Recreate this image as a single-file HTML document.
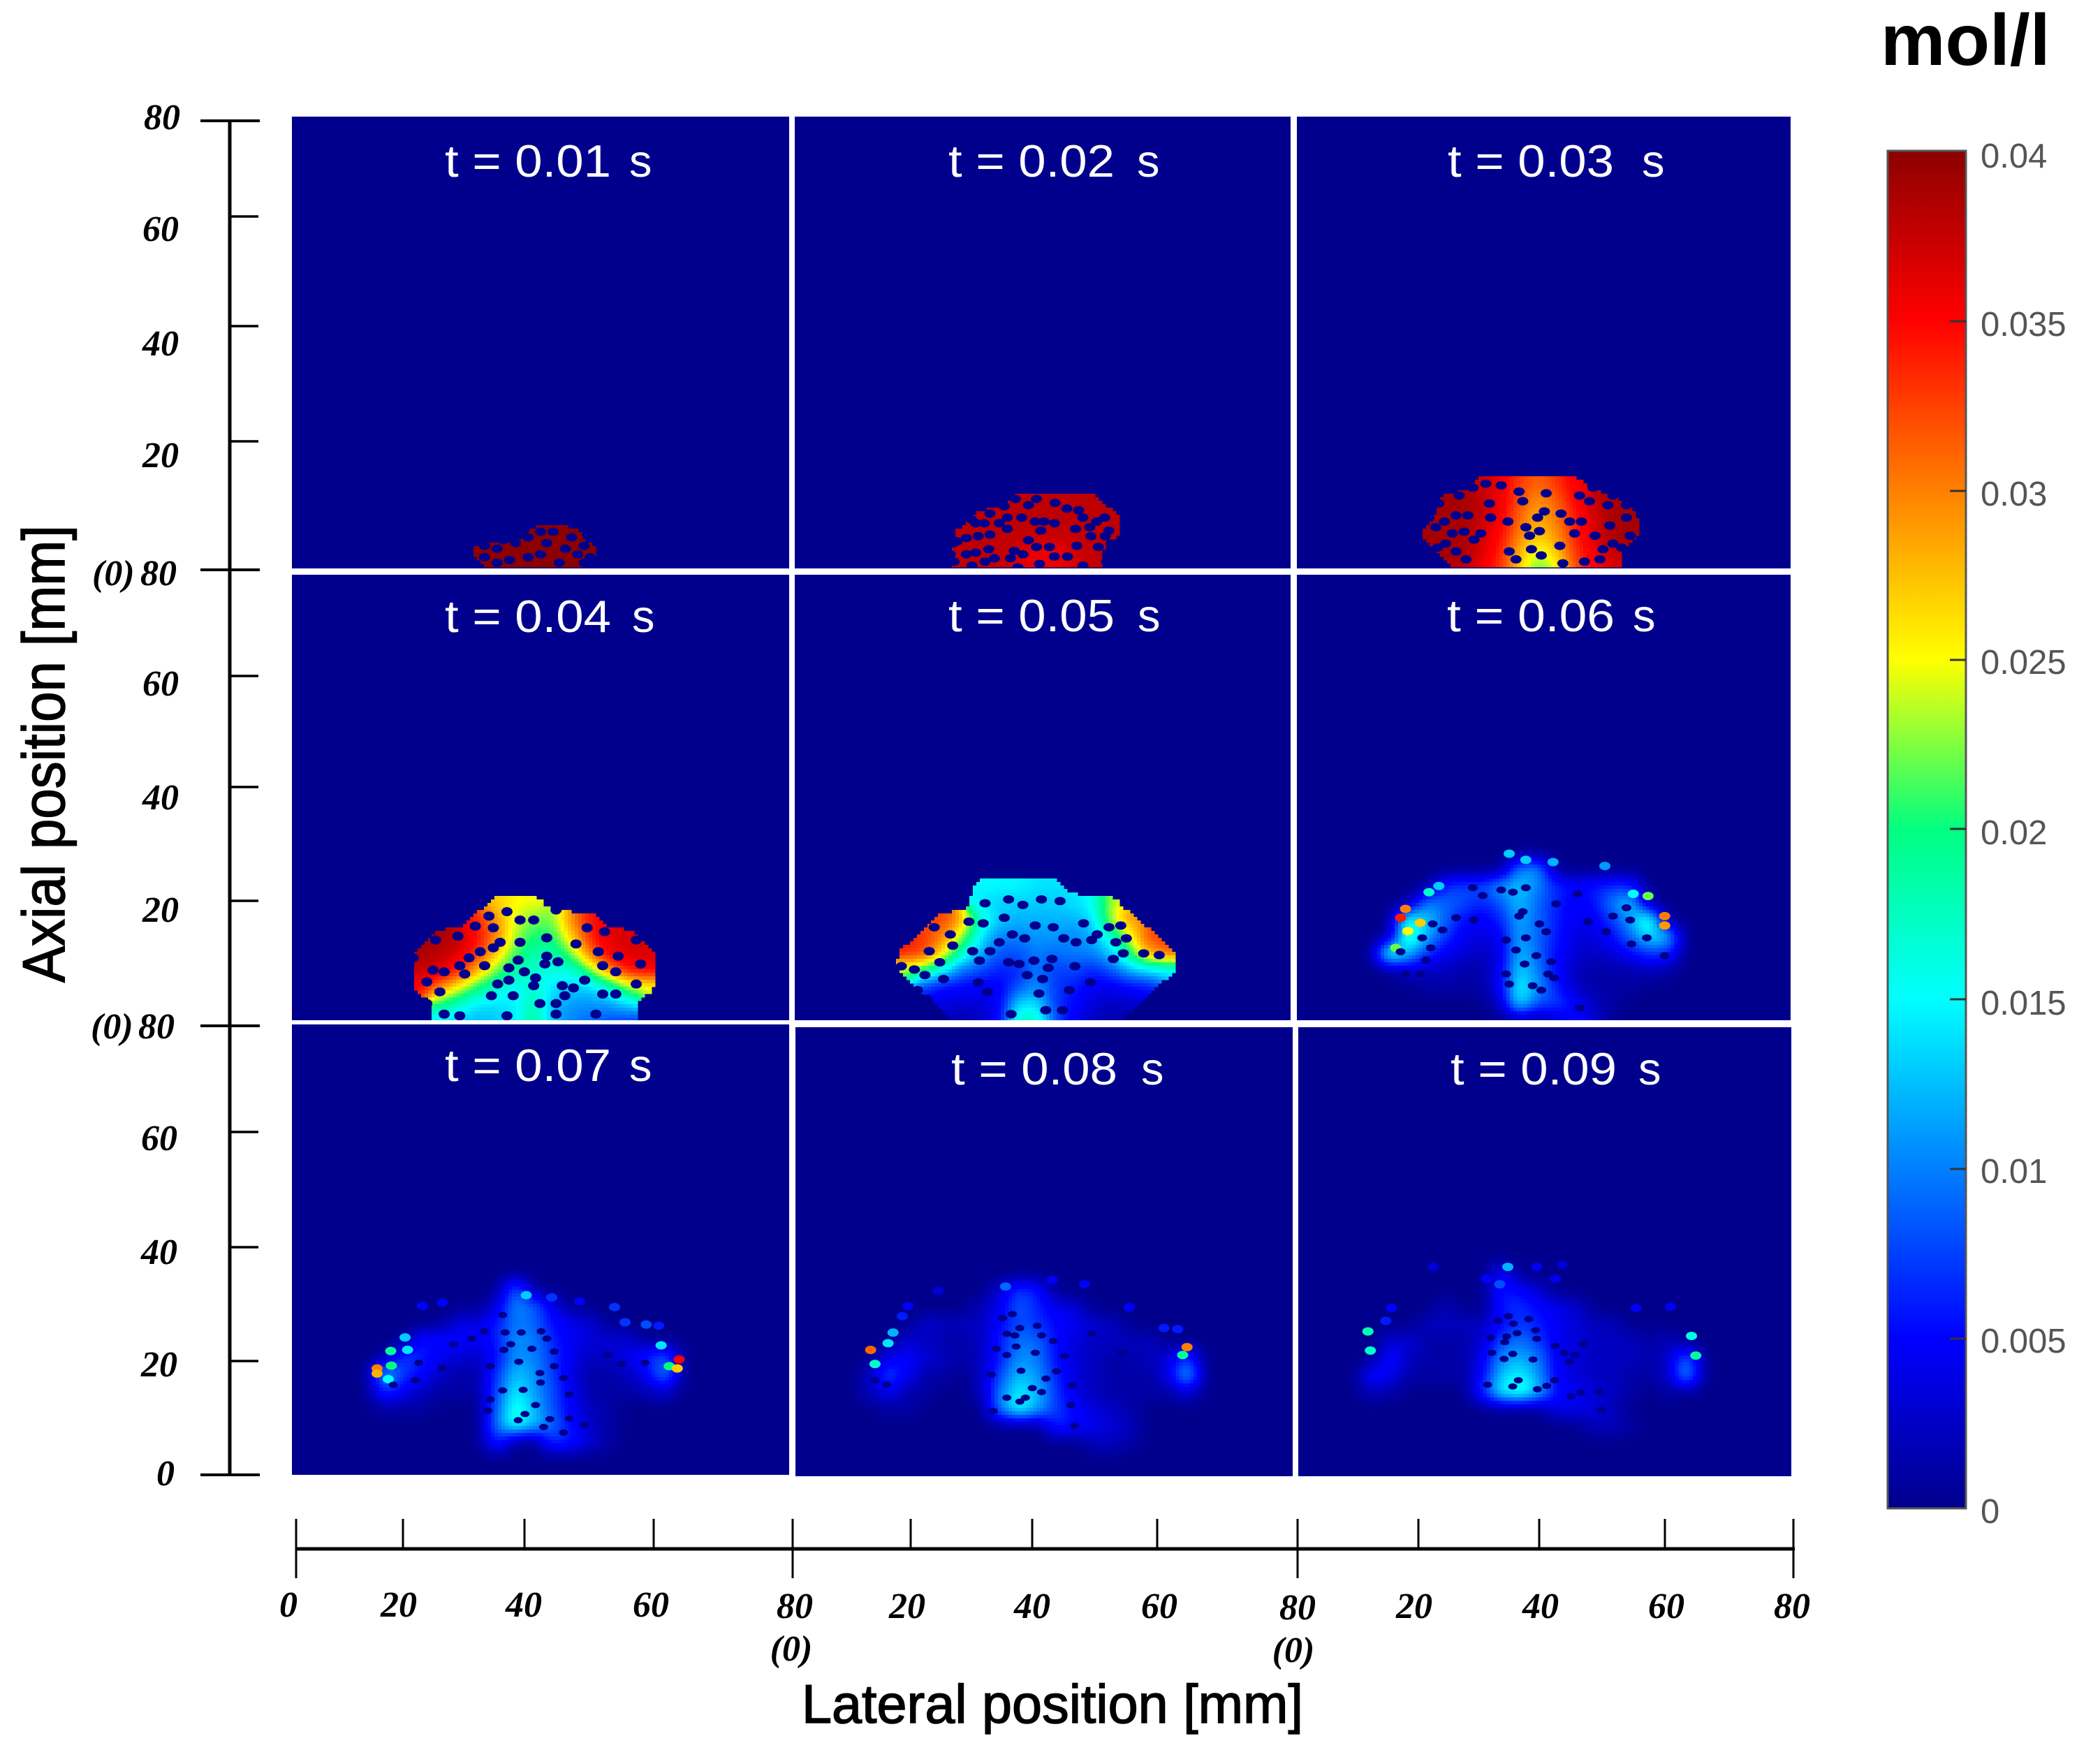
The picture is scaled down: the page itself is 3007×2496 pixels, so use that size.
<!DOCTYPE html>
<html lang="en">
<head>
<meta charset="utf-8">
<title>Concentration maps t = 0.01 to 0.09 s</title>
<style>
html,body{margin:0;padding:0;background:#fff;width:3007px;height:2496px;overflow:hidden}
svg{display:block}
.tick-label{font-family:"Liberation Serif",serif;font-weight:bold;font-style:italic;font-size:52px;fill:#000}
.panel-title{font-family:"Liberation Sans",sans-serif;font-size:65px;fill:#fff}
.axis-title{font-family:"Liberation Sans",sans-serif;fill:#000;stroke:#000;stroke-width:1.5}
.cb-label{font-family:"Liberation Sans",sans-serif;font-size:49px;fill:#555}
.panel-bg{fill:#00008c}
</style>
</head>
<body>
<svg id="figure" xmlns="http://www.w3.org/2000/svg" width="3007" height="2496" viewBox="0 0 3007 2496">
<rect x="0" y="0" width="3007" height="2496" fill="#fff"/>

<g>
<rect class="panel-bg" x="418" y="167" width="712" height="647"/>
<svg id="marks-t01" x="418" y="167" width="712" height="647"></svg>
<text class="panel-title" y="253"><tspan x="637" textLength="238" lengthAdjust="spacingAndGlyphs">t = 0.01</tspan><tspan x="901">s</tspan></text>
</g>
<g>
<rect class="panel-bg" x="1138" y="167" width="710" height="647"/>
<svg id="marks-t02" x="1138" y="167" width="710" height="647"></svg>
<text class="panel-title" y="253"><tspan x="1358" textLength="238" lengthAdjust="spacingAndGlyphs">t = 0.02</tspan><tspan x="1628">s</tspan></text>
</g>
<g>
<rect class="panel-bg" x="1857" y="167" width="707" height="647"/>
<svg id="marks-t03" x="1857" y="167" width="707" height="647"></svg>
<text class="panel-title" y="253"><tspan x="2073" textLength="238" lengthAdjust="spacingAndGlyphs">t = 0.03</tspan><tspan x="2351">s</tspan></text>
</g>
<g>
<rect class="panel-bg" x="418" y="823" width="712" height="638"/>
<svg id="marks-t04" x="418" y="823" width="712" height="638"></svg>
<text class="panel-title" y="905"><tspan x="637" textLength="238" lengthAdjust="spacingAndGlyphs">t = 0.04</tspan><tspan x="905">s</tspan></text>
</g>
<g>
<rect class="panel-bg" x="1138" y="823" width="710" height="638"/>
<svg id="marks-t05" x="1138" y="823" width="710" height="638"></svg>
<text class="panel-title" y="904"><tspan x="1358" textLength="238" lengthAdjust="spacingAndGlyphs">t = 0.05</tspan><tspan x="1629">s</tspan></text>
</g>
<g>
<rect class="panel-bg" x="1857" y="823" width="707" height="638"/>
<svg id="marks-t06" x="1857" y="823" width="707" height="638"></svg>
<text class="panel-title" y="904"><tspan x="2072" textLength="240" lengthAdjust="spacingAndGlyphs">t = 0.06</tspan><tspan x="2338">s</tspan></text>
</g>
<g>
<rect class="panel-bg" x="418" y="1467" width="712" height="645"/>
<svg id="marks-t07" x="418" y="1467" width="712" height="645"></svg>
<text class="panel-title" y="1548"><tspan x="637" textLength="238" lengthAdjust="spacingAndGlyphs">t = 0.07</tspan><tspan x="901">s</tspan></text>
</g>
<g>
<rect class="panel-bg" x="1139" y="1471" width="712" height="643"/>
<svg id="marks-t08" x="1139" y="1471" width="712" height="643"></svg>
<text class="panel-title" y="1553"><tspan x="1362" textLength="238" lengthAdjust="spacingAndGlyphs">t = 0.08</tspan><tspan x="1634">s</tspan></text>
</g>
<g>
<rect class="panel-bg" x="1859" y="1471" width="706" height="643"/>
<svg id="marks-t09" x="1859" y="1471" width="706" height="643"></svg>
<text class="panel-title" y="1553"><tspan x="2077" textLength="238" lengthAdjust="spacingAndGlyphs">t = 0.09</tspan><tspan x="2346">s</tspan></text>
</g>

<g stroke="#000">
<line x1="329" y1="173" x2="329" y2="2113" stroke-width="5"/>
<line x1="287" x2="372" y1="173" y2="173" stroke-width="4"/>
<line x1="331" x2="370" y1="310" y2="310" stroke-width="3.5"/>
<line x1="331" x2="370" y1="467" y2="467" stroke-width="3.5"/>
<line x1="331" x2="370" y1="632" y2="632" stroke-width="3.5"/>
<line x1="287" x2="372" y1="816" y2="816" stroke-width="4"/>
<line x1="331" x2="370" y1="968" y2="968" stroke-width="3.5"/>
<line x1="331" x2="370" y1="1127" y2="1127" stroke-width="3.5"/>
<line x1="331" x2="370" y1="1290" y2="1290" stroke-width="3.5"/>
<line x1="287" x2="372" y1="1469" y2="1469" stroke-width="4"/>
<line x1="331" x2="370" y1="1621" y2="1621" stroke-width="3.5"/>
<line x1="331" x2="370" y1="1786" y2="1786" stroke-width="3.5"/>
<line x1="331" x2="370" y1="1949" y2="1949" stroke-width="3.5"/>
<line x1="287" x2="372" y1="2112" y2="2112" stroke-width="4"/>
</g>
<g>
<text class="tick-label" x="206" y="185">80</text>
<text class="tick-label" x="204" y="345">60</text>
<text class="tick-label" x="204" y="509">40</text>
<text class="tick-label" x="204" y="669">20</text>
<text class="tick-label" x="132" y="838">(0)</text>
<text class="tick-label" x="201" y="838">80</text>
<text class="tick-label" x="204" y="996">60</text>
<text class="tick-label" x="204" y="1159">40</text>
<text class="tick-label" x="204" y="1320">20</text>
<text class="tick-label" x="130" y="1487">(0)</text>
<text class="tick-label" x="198" y="1487">80</text>
<text class="tick-label" x="202" y="1647">60</text>
<text class="tick-label" x="202" y="1810">40</text>
<text class="tick-label" x="202" y="1971">20</text>
<text class="tick-label" x="224" y="2127">0</text>
</g>
<text class="axis-title" transform="translate(92,1407) rotate(-90)" font-size="85" textLength="655" lengthAdjust="spacingAndGlyphs">Axial position [mm]</text>

<g stroke="#000">
<line x1="424" y1="2218" x2="2570" y2="2218" stroke-width="5"/>
<line x1="424" x2="424" y1="2175" y2="2260" stroke-width="3"/>
<line x1="577" x2="577" y1="2175" y2="2218" stroke-width="3"/>
<line x1="751" x2="751" y1="2175" y2="2218" stroke-width="3"/>
<line x1="936" x2="936" y1="2175" y2="2218" stroke-width="3"/>
<line x1="1135" x2="1135" y1="2175" y2="2260" stroke-width="3"/>
<line x1="1304" x2="1304" y1="2175" y2="2218" stroke-width="3"/>
<line x1="1478" x2="1478" y1="2175" y2="2218" stroke-width="3"/>
<line x1="1657" x2="1657" y1="2175" y2="2218" stroke-width="3"/>
<line x1="1858" x2="1858" y1="2175" y2="2260" stroke-width="3"/>
<line x1="2031" x2="2031" y1="2175" y2="2218" stroke-width="3"/>
<line x1="2204" x2="2204" y1="2175" y2="2218" stroke-width="3"/>
<line x1="2384" x2="2384" y1="2175" y2="2218" stroke-width="3"/>
<line x1="2568" x2="2568" y1="2175" y2="2260" stroke-width="3"/>
</g>
<g text-anchor="middle">
<text class="tick-label" x="413" y="2315">0</text>
<text class="tick-label" x="571" y="2315">20</text>
<text class="tick-label" x="750" y="2315">40</text>
<text class="tick-label" x="932" y="2315">60</text>
<text class="tick-label" x="1138" y="2317">80</text>
<text class="tick-label" x="1299" y="2317">20</text>
<text class="tick-label" x="1478" y="2317">40</text>
<text class="tick-label" x="1660" y="2317">60</text>
<text class="tick-label" x="1858" y="2319">80</text>
<text class="tick-label" x="2025" y="2317">20</text>
<text class="tick-label" x="2206" y="2317">40</text>
<text class="tick-label" x="2386" y="2317">60</text>
<text class="tick-label" x="2566" y="2317">80</text>
<text class="tick-label" x="1133" y="2378">(0)</text>
<text class="tick-label" x="1852" y="2380">(0)</text>
</g>
<text class="axis-title" x="1148" y="2467" font-size="78" textLength="718" lengthAdjust="spacingAndGlyphs">Lateral position [mm]</text>

<defs>
<linearGradient id="jet-gradient" x1="0" y1="0" x2="0" y2="1">
<stop offset="0" stop-color="#8c0000"/>
<stop offset="0.125" stop-color="#ff0000"/>
<stop offset="0.375" stop-color="#ffff00"/>
<stop offset="0.5" stop-color="#00ff80"/>
<stop offset="0.625" stop-color="#00ffff"/>
<stop offset="0.875" stop-color="#0000ff"/>
<stop offset="1" stop-color="#00008c"/>
</linearGradient>
</defs>
<g>
<rect x="2703" y="216" width="112" height="1944" fill="url(#jet-gradient)" stroke="#555" stroke-width="3"/>
<line x1="2792" x2="2815" y1="460" y2="460" stroke="#333" stroke-width="3"/>
<line x1="2792" x2="2815" y1="703" y2="703" stroke="#333" stroke-width="3"/>
<line x1="2792" x2="2815" y1="945" y2="945" stroke="#333" stroke-width="3"/>
<line x1="2792" x2="2815" y1="1187" y2="1187" stroke="#333" stroke-width="3"/>
<line x1="2792" x2="2815" y1="1431" y2="1431" stroke="#333" stroke-width="3"/>
<line x1="2792" x2="2815" y1="1674" y2="1674" stroke="#333" stroke-width="3"/>
<line x1="2792" x2="2815" y1="1917" y2="1917" stroke="#333" stroke-width="3"/>
<text class="cb-label" x="2836" y="240">0.04</text>
<text class="cb-label" x="2836" y="481">0.035</text>
<text class="cb-label" x="2836" y="724">0.03</text>
<text class="cb-label" x="2836" y="965">0.025</text>
<text class="cb-label" x="2836" y="1209">0.02</text>
<text class="cb-label" x="2836" y="1453">0.015</text>
<text class="cb-label" x="2836" y="1694">0.01</text>
<text class="cb-label" x="2836" y="1937">0.005</text>
<text class="cb-label" x="2836" y="2181">0</text>
</g>
<text x="2693" y="93" font-family="'Liberation Sans',sans-serif" font-weight="bold" font-size="104" fill="#000">mol/l</text>
</svg>

<script>
// Rows: [axial mm, first lateral mm, value at that lateral, next lateral (+3 mm), ...]
// Values are in 0.001 mol/l; 0 or missing means no vapour plume there.
const valuesT01 = [
  [6,39,40,40,40],
  [3,30,40,40,40,40,40,40,40],
  [0,33,40,40,40,40,40]
];
const valuesT02 = [
  [12,36,38,38,38,38,38],
  [9,30,38,38,38,38,38,38,38,38],
  [6,27,38,38,38,38,38,38,38,38,38],
  [3,27,38,38,38,37,36,36,37,38],
  [0,27,38,38,38,37,36,36,37,38]
];
const valuesT03 = [
  [15,30,38,36,33,31,33,36],
  [12,24,39,39,38,36,32,29,31,35,38,39],
  [9,24,39,39,38,36,31,28,30,34,37,39,39],
  [6,21,39,39,39,37,35,30,27,29,34,37,39,39],
  [3,24,39,39,37,34,28,24,27,33,36,38],
  [0,27,38,36,33,27,21,24,32,35,37]
];
const valuesT04 = [
  [21,33,27,25,25],
  [18,30,34,29,24,22,22,30,35],
  [15,24,39,38,35,30,23,20,20,27,34,37,37],
  [12,21,39,38,37,33,27,21,18,18,22,31,36,37,37],
  [9,21,38,37,34,28,22,18,17,16,16,22,30,35,36],
  [6,21,35,30,25,20,17,15,17,14,13,13,17,23,24],
  [3,24,20,17,14,14,14,19,12,11,11,11,14],
  [0,24,14,13,12,13,14,20,12,10,9,8,7]
];
const valuesT05 = [
  [24,30,15,15,15,14,14],
  [21,30,14,13,13,13,13,14,15,24],
  [18,24,33,29,17,13,12,12,12,12,13,24,30],
  [15,21,33,30,23,14,10,10,11,11,10,12,16,24,33],
  [12,18,35,33,26,17,12,8,8,10,9,10,10,13,20,29,33],
  [9,18,22,20,15,9,8,6,6,10,7,8,6,8,12,14,13],
  [6,21,6,5,5,4,4,8,11,7,6,4,4,5,5],
  [3,24,3,3,3,4,14,14,7,5,3,2,2],
  [0,27,1,2,4,18,18,8,4,2,1]
];
const valuesT06 = [
  [27,36,11,12],
  [24,24,7,8,8,12,13,10,7,5,6,7,7],
  [21,21,11,9,8,6,8,13,9,6,4,5,10,14],
  [18,18,18,13,9,5,4,6,12,9,6,4,4,7,11,20],
  [15,18,20,12,7,4,3,4,12,9,6,3,3,5,9,14,14],
  [12,15,20,12,7,4,3,2,3,13,9,5,3,2,3,5,7,7],
  [9,18,3,2,2,1,1,4,14,10,5,2,1,1,1,2,1],
  [6,21,1,1,1,1,4,16,11,6,2,1,1,1],
  [3,33,2,16,8,8,5,2,1],
  [0,42,2,5,3]
];
const valuesT07 = [
  [33,36,10],
  [30,33,3,11,9,4],
  [27,27,4,3,6,10,9,5,4,3],
  [24,21,6,5,5,4,6,11,10,6,4,3,3,3],
  [21,18,8,6,4,3,2,5,11,10,7,4,2,2,4,6,9],
  [18,15,14,7,5,2,1,1,7,13,11,7,3,1,1,2,4,12],
  [15,15,8,4,2,1,1,1,8,15,11,8,4,1,1,1,2,3],
  [12,15,1,1,1,0,0,0,9,17,12,8,4,2,1,0,0,0],
  [9,33,10,18,13,9,5,2,1],
  [6,33,8,0,0,8,6,3,1]
];
const valuesT08 = [
  [33,33,3,8,6],
  [30,30,2,4,9,6,4,3],
  [27,21,3,2,2,2,5,8,7,5,4,3,2],
  [24,18,3,2,1,1,2,6,10,9,5,3,2,2,2,2],
  [21,15,4,5,3,2,1,2,6,11,10,5,3,2,1,1,2,3,8],
  [18,12,2,9,4,1,1,0,2,8,13,11,6,3,2,1,1,1,3,14],
  [15,12,2,4,1,1,0,0,2,10,15,12,7,3,2,1,1,1,1,3],
  [12,15,1,1,0,0,0,0,11,17,12,7,5,3,2,1],
  [9,42,7,5,4,3,2],
  [6,48,2,2,1]
];
const valuesT09 = [
  [36,33,6],
  [33,33,6,5,3],
  [30,24,2,0,0,6,7,5,4,3],
  [27,21,2,2,2,2,5,7,6,4,3,2,2],
  [24,15,3,3,1,1,1,3,8,10,7,4,3,2,2,2,1,2],
  [21,15,6,2,1,1,1,4,11,12,10,4,3,2,2,2,1,2,10],
  [18,12,6,4,1,1,1,1,5,13,15,11,4,3,2,2,1,1,2,13],
  [15,12,2,1,0,0,0,0,7,16,18,13,5,4,3,2,1,0,1],
  [12,42,4,4,3,2],
  [9,48,2,2,1]
];

// Droplet holes: [lateral mm, axial mm]
const dotsT01 = [[31,2],[33,3.5],[35,1.5],[36,4.5],[38,2],[38,5.5],[41,4.5],[43,1],[44,3.5],[45,5.5],[46,2.5],[47,4],[34,5],[40,2.5],[42,6.5],[47,1],[33,1],[37,6.5],[31,4],[48,2],[36,7],[40,6.5]];
const dotsT02 = [[27.7,5.4],[29.6,5.7],[26.2,4.8],[27.7,2.5],[29.2,2.8],[31.3,3.4],[33,8],[34.3,7],[31.5,6],[34.8,1.8],[35.4,3.1],[37.7,5],[36.6,9],[37.7,11.2],[38.8,8.3],[39.7,6.7],[40.2,8.3],[41.9,8],[41.1,3.8],[39.5,0.8],[45.3,7],[46.5,9],[47.6,7.3],[47.8,5.7],[45.5,4],[41.9,2.1],[44,2.1],[49,3.8],[50.1,5.7],[50.5,2.5],[48.7,8.3],[34.3,9],[30.6,8],[28.6,0.5],[36,0.2],[25.5,4.4],[25.1,2.5],[25.7,1.2],[26.6,9.7],[28.5,8.7],[29.2,8],[31.5,9.7],[33.8,11],[35.6,12.3],[39,12.3],[42,11.6],[43.9,10.6],[45.8,10.3],[50,9],[50.7,6.7],[51,4.4],[50.3,1.2],[46.5,0.5],[36.8,2.5],[32.2,1.8],[30.7,1.2],[39,3.8]];
const dotsT03 = [[23.9,8.3],[25.8,9.4],[27.7,9.4],[25.2,6.2],[27.1,6.5],[28.7,5.1],[29.8,6.2],[22.8,3.7],[25.8,3],[27.4,1.6],[31.4,9],[33.1,14.7],[36,13.6],[36.6,11.9],[34.2,8.3],[37.1,7.3],[39,9],[40.1,10.1],[40.4,13.3],[39.3,6.6],[37.7,5.8],[34.4,3],[38,3.4],[39.6,2.3],[35.5,1.6],[43.1,0.9],[42.6,4],[42.8,9.7],[44.2,8.3],[46.1,8.3],[45,6.2],[48.3,5.8],[46.6,1.2],[49.1,1.6],[50.4,11.2],[45.8,12.9],[47.4,11.9],[50.7,7.6],[53.4,9],[51.2,4.4],[49.6,3.4],[22.5,7.3],[21.4,9],[23,11.5],[26.3,12.9],[28.5,14.3],[30.6,15],[48,14.3],[51.2,12.9],[53.4,11.2],[54,5.8],[52.6,3.7],[31.2,11.5],[24.1,4.4]];
const dotsT04 = [[22.7,9],[24.5,8.7],[21.7,6.9],[23.8,5.1],[27,9.8],[28.5,11.2],[30.3,12.3],[32.4,13],[27.8,8.3],[31,9.8],[33.5,14],[36.7,14],[36.4,10.8],[41,11.5],[42.8,10.5],[40.7,10.1],[34.9,9.4],[37.4,8.7],[39.2,7.6],[33.1,6.5],[34.9,7.2],[38.9,6.2],[43.5,6.2],[45.3,5.8],[47.1,7.2],[32.1,4.4],[35.6,4.4],[42.5,3],[43.9,4.4],[50,4.7],[52.1,4.7],[39.9,3],[34.6,0.8],[42.5,1.1],[24.5,1.1],[27,0.8],[48.9,1.1],[52.5,11.5],[49.3,12.3],[50,9.8],[52.1,8.7],[32.4,16.6],[36.7,18],[41,14.8],[45.7,13.7],[38.9,18],[23.1,14.4],[26.7,15.1],[29.5,16.9],[34.6,19.5],[31.7,18.7],[42.5,19.8],[47.5,16.6],[50.3,15.9],[55.4,14.4],[56.1,10.1],[55.4,6.5],[21.7,3],[19.5,11.2]];
const dotsT05 = [[17.2,9.7],[19.3,9.1],[21.7,12.4],[23.4,10.4],[21,8.1],[24,7.4],[22.5,16.7],[25.1,15.4],[25.5,13.4],[28.1,17.7],[30.4,17.4],[28.7,12.4],[31.5,12.4],[29.8,10.7],[33,14],[35.1,15.4],[37.1,14.7],[38.8,17],[41.7,16.7],[43.4,14.7],[45.4,14],[47.9,14.4],[34.5,10.4],[36.2,10.1],[38.6,10.7],[41.5,11],[40.9,9.4],[37.5,8.1],[40,7.4],[45.2,9.7],[47.7,6.8],[51.4,11],[53,12],[56.3,12],[58.8,11.7],[51.8,14],[53.5,14.7],[50.7,16.7],[52.6,17],[48.8,15.4],[46.6,17.4],[42.8,21.4],[39.8,21.7],[36.8,20.7],[33.8,18.4],[30.7,21],[34.5,21.7],[29.6,6.8],[31.1,5.1],[34.9,1.1],[40.5,1.8],[43.2,1.8],[44.3,5.4],[39.4,4.8],[19.8,5.4],[21.3,3.8]];
const dotsT06 = [[16.8,12.3],[20.9,10.8],[21.7,13],[20.3,14.8],[22,17.3],[25.8,18.4],[23.6,16.2],[28.7,18],[28.5,23.8],[30.1,22.4],[33.1,23.4],[35,23],[37.1,23.8],[36.6,19.5],[36,18.7],[33.9,14.4],[37.1,14.8],[35.5,12.6],[38.8,11.6],[41.2,10.5],[36.9,10.1],[33.9,8.3],[40.7,8.3],[41.7,7.6],[34.4,6.5],[38.2,6.2],[39.6,5.4],[45.8,2.2],[47.2,17.7],[51.2,18.7],[50.1,15.9],[54,18],[54.2,13.7],[56.7,14.8],[59.6,11.6],[45.5,22.7],[42,20.9],[39.3,17.3],[40.4,15.9],[53.4,20.2],[17.6,8.3],[20,8.3]];
const dotsT07 = [[33.9,28.4],[30.9,25.5],[34.3,25.3],[36.9,25.3],[40.1,25.5],[41,24.2],[35.2,23.2],[34.1,22.2],[38.6,22.4],[42.2,21.9],[36.5,20.1],[31.9,19.3],[42.2,19.3],[39.9,18.1],[43.7,17.2],[40,16.4],[33.9,15],[37.2,15.1],[44.6,14.3],[31.9,13.4],[39.2,12.4],[31.5,11.4],[37.5,10.8],[36.4,9.7],[41.5,9.9],[44.6,10],[40.5,8.5],[43.7,7.5],[47,8.9],[20.4,19.9],[19.9,16.8],[16.3,16],[24.2,19],[56.8,19.9],[53,19.7],[50.8,21.3],[28.9,24.2],[26,23.2]];
const dotsT08 = [[34.9,28.9],[33.3,28.2],[36.1,26.4],[34,25.4],[35.3,25.1],[39.6,25.1],[38.9,26.8],[41.5,24.1],[35.5,23.1],[34,21.6],[38.6,22],[43.3,21.4],[36.3,18.8],[31.5,18.1],[42,18.7],[40.3,17.4],[44.5,16.2],[38.1,15.7],[39.6,15],[34,14],[36.1,13.3],[37,14],[31.8,11.6],[44.3,12.7],[44.9,9],[32.3,22.7],[52.5,22],[47.7,25.4],[12.8,17.1],[14.7,16.3]];
const dotsT09 = [[34.1,28.5],[32.4,27.7],[34.9,27.2],[37.4,28],[35.5,25.5],[31.2,24.7],[33.8,24.9],[33.5,23.9],[38.7,24.5],[38.5,26],[41.7,23.2],[31.4,22],[34.8,21.8],[33.4,20.9],[38.1,20.8],[44,20.4],[44.9,21.6],[43.1,22],[35.7,17.1],[30.7,16.3],[34.8,16],[38.8,15.5],[40.3,16.1],[41.6,17.1],[44.2,14.2],[45.8,14.9],[49.2,11.8],[48.8,15],[46.2,23.6]];

// Small isolated patches: [lateral mm, axial mm, value in 0.001 mol/l]
const spotsT06 = [[37.1,28.8,13],[41.5,28.4,12],[34.4,29.9,13],[49.9,27.7,11],[23,24.1,13],[21.4,23,17],[17.6,20,30],[16.8,18.4,34],[18,16,25],[20,17.5,27],[16,13,22],[59.6,18.7,30],[59.6,17,29],[56.9,22.3,22],[54.5,22.7,15]];
const spotsT07 = [[13.7,18.9,30],[13.7,18,28],[16,19.4,20],[15.5,17,15],[15.9,22,19],[60.7,19.3,20],[62,18.9,27],[62.3,20.5,35],[51.9,29.8,7],[53.6,27.1,7],[57,26.7,8],[59,26.5,6],[59.4,23,14],[37.7,31.9,13],[41.8,31.5,7],[46.3,30.8,5],[24.2,30.6,5],[21,30,5],[18.2,24.4,13],[18.6,22.2,14]];
const spotsT08 = [[12.1,22.5,31],[12.8,20,17],[63,23,30],[62.3,21.6,19],[23,33,3],[18.1,30.3,5],[17.2,28.5,6],[15.7,25.6,12],[14.9,23.7,14],[33.8,33.8,9],[41.3,35,4],[46.5,34.2,4],[53.7,30.1,5],[59.3,26.4,6],[61.5,26.2,6]];
const spotsT09 = [[11.7,22.4,17],[63.8,25,16],[64.5,21.5,19],[11.3,25.8,18],[34,37.3,12],[38.7,37.3,4],[42.8,37.7,3],[21.9,37.3,3],[15.1,30,5],[14.2,27.7,6],[32.7,34.2,8],[30.5,35.2,5],[41.7,35.2,4],[54.8,30,4],[60.4,30.2,4]];

const axisMaxMm = 80;
const axisMaxValue = 40;

const panels = [
  {id:'marks-t01', values:valuesT01, dots:dotsT01, spots:[],       rx:8,   ry:6,   soft:false},
  {id:'marks-t02', values:valuesT02, dots:dotsT02, spots:[],       rx:8,   ry:6,   soft:false},
  {id:'marks-t03', values:valuesT03, dots:dotsT03, spots:[],       rx:8,   ry:6,   soft:false},
  {id:'marks-t04', values:valuesT04, dots:dotsT04, spots:[],       rx:8,   ry:6.5, soft:false},
  {id:'marks-t05', values:valuesT05, dots:dotsT05, spots:[],       rx:8,   ry:6,   soft:false},
  {id:'marks-t06', values:valuesT06, dots:dotsT06, spots:spotsT06, rx:7,   ry:5,   soft:true},
  {id:'marks-t07', values:valuesT07, dots:dotsT07, spots:spotsT07, rx:6.5, ry:4.5, soft:true},
  {id:'marks-t08', values:valuesT08, dots:dotsT08, spots:spotsT08, rx:6.5, ry:4.5, soft:true},
  {id:'marks-t09', values:valuesT09, dots:dotsT09, spots:spotsT09, rx:6.5, ry:4.5, soft:true}
];

const NS = 'http://www.w3.org/2000/svg';
const GRID_STEP = 3;
const CELL_PX = 5;
const KERNEL_SIGMA = 1.7;

function clamp01(v){ return Math.max(0, Math.min(1, v)); }
function jetColor(value){
  const t = clamp01(value / axisMaxValue);
  const r = clamp01(Math.min((t - 0.5) * 8, -4*t + 4.55));
  const g = clamp01(Math.min(4*t - 0.5, -4*t + 3.5));
  const b = clamp01(Math.min(4*t + 0.55, -4*t + 2.5));
  return 'rgb(' + Math.round(r*255) + ',' + Math.round(g*255) + ',' + Math.round(b*255) + ')';
}

function buildLookup(rows){
  const map = new Map();
  rows.forEach(function(row){
    const axial = row[0];
    const first = row[1];
    for (let i = 2; i < row.length; i++){
      if (row[i] > 0) map.set((first + (i-2)*GRID_STEP) + '|' + axial, row[i]);
    }
  });
  return map;
}

// Gaussian-weighted read of nearby grid values. Hard-edged plumes keep a sharp
// silhouette; late, decaying plumes fade smoothly into the background.
function sampleValue(lookup, lateral, axial, soft){
  const gx = Math.round(lateral / GRID_STEP) * GRID_STEP;
  const gy = Math.round(axial / GRID_STEP) * GRID_STEP;
  let total = 0, inside = 0, sum = 0;
  for (let dx = -2; dx <= 2; dx++){
    for (let dy = -2; dy <= 2; dy++){
      const nx = gx + dx*GRID_STEP;
      const ny = gy + dy*GRID_STEP;
      const d2 = (nx-lateral)*(nx-lateral) + (ny-axial)*(ny-axial);
      const w = Math.exp(-d2 / (2*KERNEL_SIGMA*KERNEL_SIGMA));
      total += w;
      const v = lookup.get(nx + '|' + Math.max(ny, 0));
      if (v !== undefined){ inside += w; sum += w*v; }
    }
  }
  if (soft){
    const blended = sum / total;
    return blended > 0.2 ? blended : null;
  }
  return inside / total > 0.5 ? sum / inside : null;
}

function drawPanel(panel){
  const host = document.getElementById(panel.id);
  const w = +host.getAttribute('width');
  const h = +host.getAttribute('height');
  const xScale = function(mm){ return mm / axisMaxMm * w; };
  const yScale = function(mm){ return h - mm / axisMaxMm * h; };
  const lookup = buildLookup(panel.values);

  const cellsGroup = document.createElementNS(NS, 'g');
  cellsGroup.setAttribute('shape-rendering', 'crispEdges');
  
  
  host.appendChild(cellsGroup);

  for (let py = 0; py < h; py += CELL_PX){
    for (let px = 0; px < w; px += CELL_PX){
      const lateral = (px + CELL_PX/2) / w * axisMaxMm;
      const axial = (h - py - CELL_PX/2) / h * axisMaxMm;
      if (axial < 0 || axial > 42 || lateral < 6 || lateral > 72) continue;
      const v = sampleValue(lookup, lateral, axial, panel.soft);
      if (v === null) continue;
      const cell = document.createElementNS(NS, 'rect');
      cell.setAttribute('x', xScale(lateral) - CELL_PX/2);
      cell.setAttribute('y', yScale(axial) - CELL_PX/2);
      cell.setAttribute('width', CELL_PX + 0.5);
      cell.setAttribute('height', CELL_PX + 0.5);
      cell.setAttribute('fill', jetColor(v));
      
      
      cellsGroup.appendChild(cell);
    }
  }

  panel.spots.forEach(function(s){
    const spot = document.createElementNS(NS, 'ellipse');
    spot.setAttribute('cx', xScale(s[0]));
    spot.setAttribute('cy', yScale(s[1]));
    spot.setAttribute('rx', 8);
    spot.setAttribute('ry', 6);
    spot.setAttribute('fill', jetColor(s[2]));
    
    
    host.appendChild(spot);
  });

  panel.dots.forEach(function(d){
    const dot = document.createElementNS(NS, 'ellipse');
    dot.setAttribute('cx', xScale(d[0]));
    dot.setAttribute('cy', yScale(d[1]));
    dot.setAttribute('rx', panel.rx);
    dot.setAttribute('ry', panel.ry);
    dot.setAttribute('fill', '#00008c');
    
    
    host.appendChild(dot);
  });
}

panels.forEach(drawPanel);
</script>
</body>
</html>
